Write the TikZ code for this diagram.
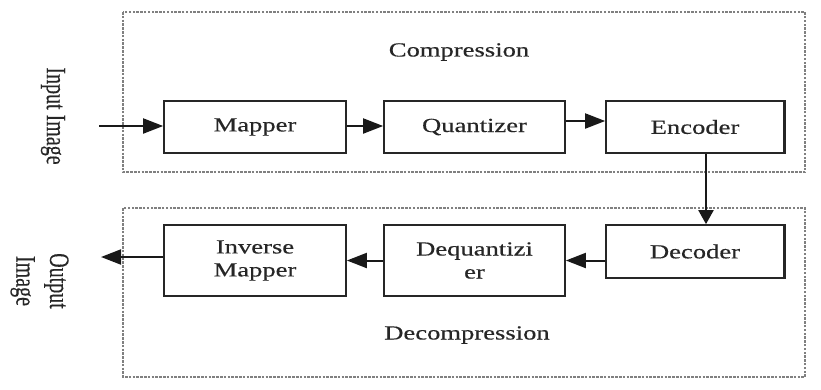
\documentclass[tikz,border=0pt]{standalone}
\usepackage{fontspec}
\setmainfont{Liberation Serif}
\newfontfamily\widefont{Liberation Serif}[FakeStretch=1.33,FakeBold=0.4]
\newfontfamily\plainfont{Liberation Serif}[FakeBold=0.4]
\usetikzlibrary{arrows.meta}
\tikzset{
  blockbox/.style={draw=black!85, line width=1.7pt, align=center, inner sep=0pt,
    font=\widefont\fontsize{20}{23}\selectfont, text=black!85},
  lbl/.style={font=\widefont\fontsize{20}{23}\selectfont, inner sep=0pt, text=black!85},
  sidelbl/.style={font=\plainfont\fontsize{20}{24}\selectfont, inner sep=0pt, rotate=-90, align=center, text=black!85},
  dbox/.style={draw=black!50, line width=1.5pt, dash pattern=on 2.5pt off 1.3pt},
  harrow/.style={draw=black!90, line width=2pt, -{Triangle[length=20pt,width=15pt]}},
  varrow/.style={draw=black!90, line width=2pt, -{Triangle[length=14pt,width=15pt]}},
}
\begin{document}
\begin{tikzpicture}[x=1pt,y=-1pt]
\useasboundingbox (0,0) rectangle (821,389);
% dashed groups
\draw[dbox] (123,12) rectangle (805,172);
\draw[dbox] (123,208) rectangle (805,377);
\node[lbl] (comp) at (459,52) {Compression};
\node[lbl] (decomp) at (467,335) {Decompression};
% blocks
\node[blockbox, minimum width=182pt, minimum height=52pt] (map) at (255,127) {Mapper};
\node[blockbox, minimum width=181pt, minimum height=52pt] (quant) at (474.5,127) {Quantizer};
\node[blockbox, minimum width=178pt, minimum height=52pt] (enc) at (695,127) {Encoder};
\node[blockbox, minimum width=178pt, minimum height=53pt] (dec) at (695,251.5) {Decoder};
\node[blockbox, minimum width=181pt, minimum height=71pt] (deq) at (474.5,260.5) {Dequantizi\\er};
\node[blockbox, minimum width=182pt, minimum height=71pt] (inv) at (255,260.5) {Inverse\\Mapper};
\draw[line width=3pt, black!85] (enc.north east) -- (enc.south east);
\draw[line width=3pt, black!85] (dec.north east) -- (dec.south east);
% side labels
\node[sidelbl] (inlbl) at (53,116) {\scalebox{1}[1.4]{Input Image}};
\node[sidelbl] (outlbl) at (40,281) {\scalebox{1}[1.4]{\begin{tabular}{@{}c@{}}Output\\Image\end{tabular}}};
% connectors
\coordinate (in) at (99,126);
\coordinate (out) at (101,257);
\draw[harrow] (in) -- (in -| map.west);
\draw[harrow] ([yshift=1pt]map.east) -- ([yshift=1pt]quant.west);
\draw[harrow] ([yshift=6pt]quant.east) -- ([yshift=6pt]enc.west);
\draw[varrow] ([xshift=11pt]enc.south) -- ([xshift=11pt]dec.north);
\draw[harrow] (dec.west |- deq.east) -- (deq.east);
\draw[harrow] (deq.west) -- (inv.east);
\draw[harrow] (inv.west |- out) -- (out);
\end{tikzpicture}
\end{document}
